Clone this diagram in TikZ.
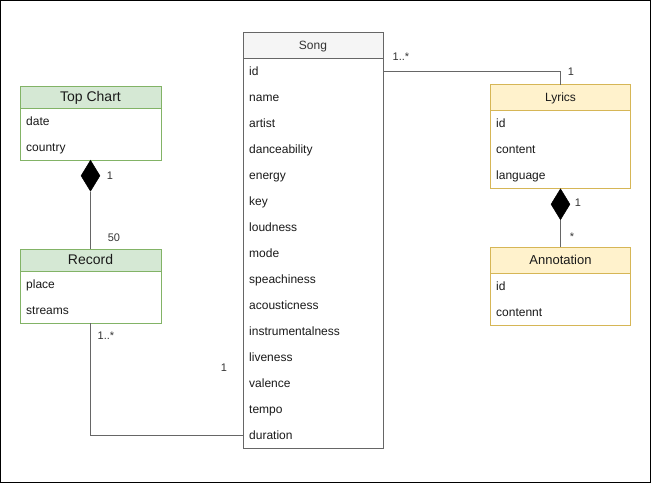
\documentclass[tikz,border=0pt]{standalone}
\usepackage{fontspec}
\setmainfont{Liberation Sans}
\usetikzlibrary{shapes.geometric}
\definecolor{gfill}{HTML}{D5E8D4}
\definecolor{gstroke}{HTML}{82B366}
\definecolor{yfill}{HTML}{FFF2CC}
\definecolor{ystroke}{HTML}{D6B656}
\definecolor{sfill}{HTML}{F5F5F5}
\definecolor{sstroke}{HTML}{666666}
\definecolor{txt}{HTML}{1A1A1A}
\definecolor{lbl}{HTML}{333333}
\begin{document}
\begin{tikzpicture}[x=1pt,y=-1pt,
  box/.style={draw, rectangle, inner sep=0pt, outer sep=0pt, anchor=north west, line width=1pt},
  hdr/.style={font=\fontsize{12}{14}\selectfont, text=txt, inner sep=0pt, anchor=base, yshift=-4.3pt},
  row/.style={anchor=base west, yshift=-4.3pt, font=\fontsize{12}{14}\selectfont, text=txt, inner sep=0pt},
  mult/.style={font=\fontsize{11}{13}\selectfont, text=lbl, inner sep=0pt, anchor=base, yshift=-4pt},
  conn/.style={draw=sstroke, line width=1pt},
  comp/.style={diamond, fill=black, draw=black, line width=0.5pt, inner sep=0pt, minimum width=19pt, minimum height=31pt}
]
\useasboundingbox (0,0) rectangle (651,483);
\draw[black, line width=1pt] (0.5,0.5) rectangle (650.5,482.5);

% Song
\node[box, draw=sstroke, fill=sfill, minimum width=140pt, minimum height=26pt] (songh) at (243,32) {};
\node[hdr, text=lbl] (songt) at (songh.center) {Song};
\node[box, draw=sstroke, fill=white, minimum width=140pt, minimum height=390pt] (songb) at (243,58) {};
\node[row] (s1) at (249,71) {id};
\node[row] (s2) at (249,97) {name};
\node[row] (s3) at (249,123) {artist};
\node[row] (s4) at (249,149) {danceability};
\node[row] (s5) at (249,175) {energy};
\node[row] (s6) at (249,201) {key};
\node[row] (s7) at (249,227) {loudness};
\node[row] (s8) at (249,253) {mode};
\node[row] (s9) at (249,279) {speachiness};
\node[row] (s10) at (249,305) {acousticness};
\node[row] (s11) at (249,331) {instrumentalness};
\node[row] (s12) at (249,357) {liveness};
\node[row] (s13) at (249,383) {valence};
\node[row] (s14) at (249,409) {tempo};
\node[row] (s15) at (249,435) {duration};
\coordinate (sidrow) at (383,71);
\coordinate (sdurrow) at (243,435.5);

% Top Chart
\node[box, draw=gstroke, fill=gfill, minimum width=141pt, minimum height=22pt] (tch) at (20,86) {};
\node[hdr, font=\fontsize{14}{16}\selectfont, yshift=-0.6pt] (tct) at (tch.center) {Top Chart};
\node[box, draw=gstroke, fill=white, minimum width=141pt, minimum height=52pt] (tcb) at (20,108) {};
\node[row] (tc1) at (26,121) {date};
\node[row] (tc2) at (26,147) {country};

% Record
\node[box, draw=gstroke, fill=gfill, minimum width=141pt, minimum height=22pt] (rch) at (20,249) {};
\node[hdr, font=\fontsize{14}{16}\selectfont, yshift=-0.6pt] (rct) at (rch.center) {Record};
\node[box, draw=gstroke, fill=white, minimum width=141pt, minimum height=52pt] (rcb) at (20,271) {};
\node[row] (rc1) at (26,284) {place};
\node[row] (rc2) at (26,310) {streams};

% Lyrics
\node[box, draw=ystroke, fill=yfill, minimum width=140pt, minimum height=26pt] (lyh) at (490.5,84.5) {};
\node[hdr] (lyt) at (lyh.center) {Lyrics};
\node[box, draw=ystroke, fill=white, minimum width=140pt, minimum height=78pt] (lyb) at (490.5,110.5) {};
\node[row] (ly1) at (496,123) {id};
\node[row] (ly2) at (496,149) {content};
\node[row] (ly3) at (496,175) {language};

% Annotation
\node[box, draw=ystroke, fill=yfill, minimum width=140pt, minimum height=26pt] (anh) at (490.5,247) {};
\node[hdr, font=\fontsize{13}{15}\selectfont] (ant) at (anh.center) {Annotation};
\node[box, draw=ystroke, fill=white, minimum width=140pt, minimum height=52pt] (anb) at (490.5,273) {};
\node[row] (an1) at (496,286) {id};
\node[row] (an2) at (496,312) {contennt};

% Composition diamonds
\node[comp, anchor=north] (d1) at (tcb.south) {};
\node[comp, anchor=north] (d2) at (lyb.south) {};

% Connectors
\draw[conn] (d1.south) -- (rch.north);
\draw[conn] (d2.south) -- (anh.north);
\draw[conn] (sidrow) -| (lyh.north);
\draw[conn] (rcb.south) |- (sdurrow);

% Multiplicities
\node[mult] (m1) at (401,56) {1..*};
\node[mult] (m2) at (571,71) {1};
\node[mult] (m3) at (110,175) {1};
\node[mult] (m4) at (114,237) {50};
\node[mult] (m5) at (106,335) {1..*};
\node[mult] (m6) at (224,367) {1};
\node[mult] (m7) at (578,202) {1};
\node[mult, yshift=-2pt] (m8) at (572,234) {*};
\end{tikzpicture}
\end{document}
